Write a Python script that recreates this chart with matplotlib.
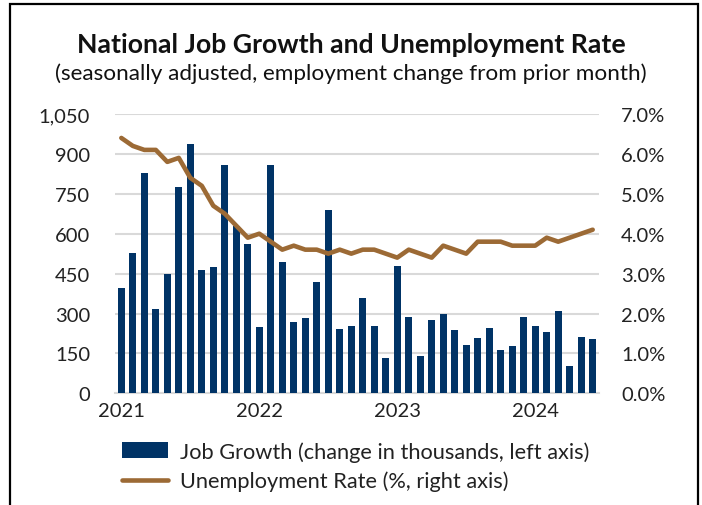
import matplotlib
matplotlib.use("Agg")
import matplotlib.pyplot as plt
import matplotlib.patches as mpatches
from matplotlib.ticker import FuncFormatter, FixedLocator
import numpy as np

plt.rcParams['font.family'] = ['Lato', 'DejaVu Sans']

months = [f"{y}-{m:02d}" for y in (2021, 2022, 2023, 2024) for m in range(1, 13)][:42]
job_growth = [395, 526, 828, 318, 450, 774, 937, 462, 476, 860, 630, 563,
              249, 860, 494, 268, 282, 417, 688, 241, 254, 357, 254, 132,
              480, 286, 142, 277, 299, 237, 182, 209, 244, 164, 177, 286,
              254, 232, 308, 104, 213, 204]
unemployment = [6.4, 6.2, 6.1, 6.1, 5.8, 5.9, 5.4, 5.2, 4.7, 4.5, 4.2, 3.9,
                4.0, 3.8, 3.6, 3.7, 3.6, 3.6, 3.5, 3.6, 3.5, 3.6, 3.6, 3.5,
                3.4, 3.6, 3.5, 3.4, 3.7, 3.6, 3.5, 3.8, 3.8, 3.8, 3.7, 3.7,
                3.7, 3.9, 3.8, 3.9, 4.0, 4.1]
year_labels = ["2021", "2022", "2023", "2024"]
left_ticks = [0, 150, 300, 450, 600, 750, 900, 1050]
right_ticks = [0, 1, 2, 3, 4, 5, 6, 7]

bar_color = "#003366"
line_color = "#9C6A35"
grid_color = "#D9D9D9"
text_color = "#222222"

W, H = 702, 506
fig = plt.figure(figsize=(W / 100, H / 100), dpi=100)
ax = fig.add_axes([115 / W, 1 - 394.3 / H, (599 - 115) / W, (394.3 - 115) / H])
ax2 = ax.twinx()

x = np.arange(len(months))
ax.bar(x, job_growth, width=0.64, color=bar_color, zorder=3,
       label="Job Growth (change in thousands, left axis)")
ax2.plot(x, unemployment, color=line_color, lw=3.3, solid_capstyle='round',
         label="Unemployment Rate (%, right axis)", zorder=4)

ax.set_ylim(0, 1050)
ax2.set_ylim(0, 7)
ax.set_xlim(-0.55, 41.55)
ax.yaxis.set_major_locator(FixedLocator(left_ticks))
ax2.yaxis.set_major_locator(FixedLocator(right_ticks))
ax.yaxis.set_major_formatter(FuncFormatter(lambda v, p: f"{int(v):,}"))
ax2.yaxis.set_major_formatter(FuncFormatter(lambda v, p: f"{v:.1f}%"))
ax.set_xticks([0, 12, 24, 36])
ax.set_xticklabels(year_labels)

ax.grid(axis='y', color=grid_color, lw=1.5, zorder=0)
ax.set_axisbelow(True)
for a in (ax, ax2):
    for s in a.spines.values():
        s.set_visible(False)
    a.tick_params(length=0, labelsize=14.5, colors=text_color)
ax.spines['bottom'].set_visible(True)
ax.spines['bottom'].set_color(grid_color)
ax.spines['bottom'].set_linewidth(1.5)
ax.tick_params(axis='y', pad=18)
ax.tick_params(axis='x', pad=6.5)
ax2.tick_params(axis='y', pad=16)

ax2.set_zorder(ax.get_zorder() + 1)
ax2.patch.set_visible(False)

fig.text(0.5, 1 - 45 / H, "National Job Growth and Unemployment Rate",
         ha='center', va='center', fontsize=19.2, fontweight='bold', color='#111111')
fig.text(0.5, 1 - 74 / H, "(seasonally adjusted, employment change from prior month)",
         ha='center', va='center', fontsize=16.2, color='#111111')

h1, l1 = ax.get_legend_handles_labels()
h2, l2 = ax2.get_legend_handles_labels()
fig.legend(h1 + h2, l1 + l2, loc='upper left', bbox_to_anchor=(122 / W, 1 - 442 / H),
           frameon=False, fontsize=15.7, handlelength=2.1, handletextpad=0.55,
           labelspacing=0.42, borderaxespad=0, borderpad=0, labelcolor=text_color)

frame = mpatches.Rectangle((10 / W, -0.05), (698 - 10) / W, 1 - 5 / H + 0.05,
                           transform=fig.transFigure, fill=False, ec='black', lw=1.6,
                           clip_on=False)
fig.patches.append(frame)

fig.savefig("out.png", dpi=100)
